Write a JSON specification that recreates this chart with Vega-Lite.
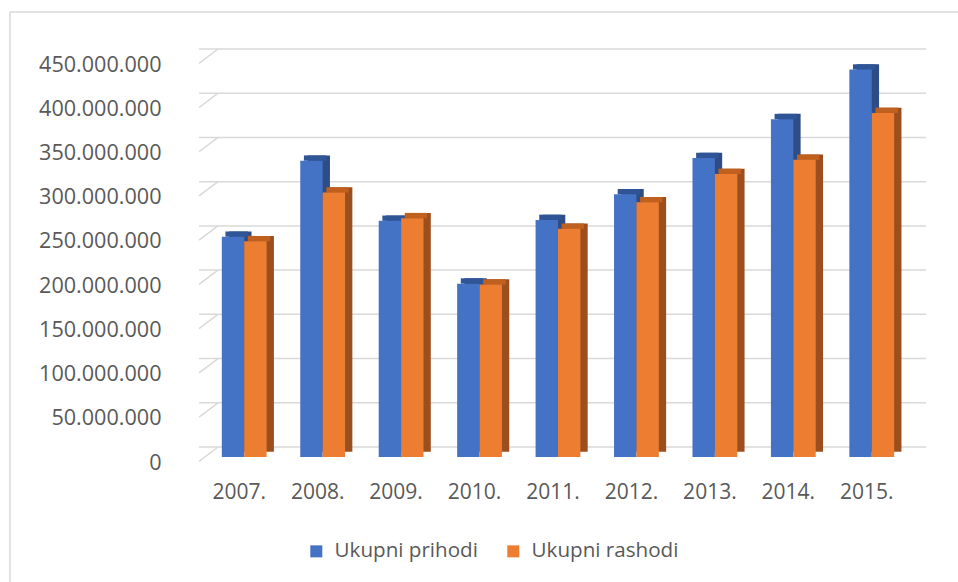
{
  "$schema": "https://vega.github.io/schema/vega-lite/v6.json",
  "autosize": "none",
  "width": 708,
  "height": 398,
  "padding": {"left": 199, "top": 59, "right": 51, "bottom": 125},
  "background": "white",
  "config": {
    "font": "Open Sans",
    "view": {"stroke": null},
    "locale": {"number": {"decimal": ",", "thousands": ".", "grouping": [3], "currency": ["", ""]}},
    "axisY": {"domain": false, "ticks": false, "grid": false, "labelPadding": 38, "labelOffset": 6, "labelFontSize": 21.6, "labelColor": "#595959", "labelFont": "Open Sans", "values": [0, 50000000, 100000000, 150000000, 200000000, 250000000, 300000000, 350000000, 400000000, 450000000], "format": ",d", "title": null},
    "axisX": {"domain": false, "ticks": false, "grid": false, "labelAngle": 0, "labelPadding": 24, "labelOffset": -5, "labelFontSize": 21, "labelColor": "#595959", "labelFont": "Open Sans", "title": null},
    "legend": {"orient": "none", "legendX": 107, "legendY": 482, "direction": "horizontal", "symbolType": "square", "symbolSize": 144, "symbolStrokeWidth": 0, "labelFontSize": 20.6, "labelFont": "Open Sans", "labelColor": "#595959", "labelOffset": 8, "columnPadding": 25, "padding": 0, "title": null}
  },
  "datasets": {
    "bars": [
      {"godina": "2007.", "serija": "Ukupni prihodi", "iznos": 249000000},
      {"godina": "2007.", "serija": "Ukupni rashodi", "iznos": 244000000},
      {"godina": "2008.", "serija": "Ukupni prihodi", "iznos": 335000000},
      {"godina": "2008.", "serija": "Ukupni rashodi", "iznos": 299000000},
      {"godina": "2009.", "serija": "Ukupni prihodi", "iznos": 267000000},
      {"godina": "2009.", "serija": "Ukupni rashodi", "iznos": 270000000},
      {"godina": "2010.", "serija": "Ukupni prihodi", "iznos": 196000000},
      {"godina": "2010.", "serija": "Ukupni rashodi", "iznos": 195000000},
      {"godina": "2011.", "serija": "Ukupni prihodi", "iznos": 268000000},
      {"godina": "2011.", "serija": "Ukupni rashodi", "iznos": 258000000},
      {"godina": "2012.", "serija": "Ukupni prihodi", "iznos": 297000000},
      {"godina": "2012.", "serija": "Ukupni rashodi", "iznos": 288000000},
      {"godina": "2013.", "serija": "Ukupni prihodi", "iznos": 338000000},
      {"godina": "2013.", "serija": "Ukupni rashodi", "iznos": 320000000},
      {"godina": "2014.", "serija": "Ukupni prihodi", "iznos": 382000000},
      {"godina": "2014.", "serija": "Ukupni rashodi", "iznos": 336000000},
      {"godina": "2015.", "serija": "Ukupni prihodi", "iznos": 438000000},
      {"godina": "2015.", "serija": "Ukupni rashodi", "iznos": 389000000}
    ],
    "grid": [
      {"v": 0}, {"v": 50000000}, {"v": 100000000}, {"v": 150000000}, {"v": 200000000},
      {"v": 250000000}, {"v": 300000000}, {"v": 350000000}, {"v": 400000000}, {"v": 450000000}
    ]
  },
  "layer": [
    {
      "data": {"values": [{}]},
      "mark": {"type": "rule", "color": "#D9D9D9", "strokeWidth": 1.5},
      "encoding": {"x": {"value": -189}, "y": {"value": -47}, "y2": {"value": 523}}
    },
    {
      "data": {"values": [{}]},
      "mark": {"type": "rule", "color": "#D9D9D9", "strokeWidth": 1.5},
      "encoding": {"x": {"value": -189}, "x2": {"value": 759}, "y": {"value": -47}}
    },
    {
      "data": {"name": "grid"},
      "mark": {"type": "rule", "color": "#D9D9D9", "strokeWidth": 1.5, "xOffset": 19, "x2Offset": 19, "yOffset": -10},
      "encoding": {
        "y": {"field": "v", "type": "quantitative", "title": null, "scale": {"domain": [0, 450000000], "nice": false, "zero": true}}
      }
    },
    {
      "data": {"name": "grid"},
      "mark": {"type": "rule", "color": "#D9D9D9", "strokeWidth": 1.5, "yOffset": 4.3, "y2Offset": -10},
      "encoding": {
        "x": {"value": 0},
        "x2": {"value": 19},
        "y": {"field": "v", "type": "quantitative", "title": null},
        "y2": {"field": "v"}
      }
    },
    {
      "data": {"name": "bars"},
      "mark": {"type": "bar", "yOffset": -5.3, "y2Offset": -5.3},
      "encoding": {
        "x": {"field": "godina", "type": "nominal", "title": null, "sort": null, "scale": {"type": "band", "range": [6, 712], "paddingInner": 0.4286, "paddingOuter": 0.2143}},
        "xOffset": {"field": "serija", "sort": null, "scale": {"range": [7.3, 52.1]}},
        "y": {"field": "iznos", "type": "quantitative", "title": null},
        "color": {"field": "serija", "type": "nominal", "legend": null, "scale": {"domain": ["Ukupni prihodi", "Ukupni rashodi"], "range": ["#2E4D87", "#9C4F1E"]}}
      }
    },
    {
      "data": {"name": "bars"},
      "mark": {"type": "tick", "thickness": 5.3, "size": 22.4, "yOffset": -2.65, "opacity": 1},
      "encoding": {
        "x": {"field": "godina", "type": "nominal", "title": null, "sort": null},
        "xOffset": {"field": "serija", "sort": null, "scale": {"range": [3.65, 48.45]}},
        "y": {"field": "iznos", "type": "quantitative", "title": null},
        "color": {"field": "serija", "type": "nominal", "legend": null, "scale": {"domain": ["Ukupni prihodi", "Ukupni rashodi"], "range": ["#2F5597", "#C0601F"]}}
      }
    },
    {
      "data": {"name": "bars"},
      "mark": {"type": "bar"},
      "encoding": {
        "x": {"field": "godina", "type": "nominal", "title": null, "sort": null},
        "xOffset": {"field": "serija", "sort": null, "scale": {"range": [0, 44.8]}},
        "y": {"field": "iznos", "type": "quantitative", "title": null},
        "color": {"field": "serija", "type": "nominal", "title": null, "scale": {"domain": ["Ukupni prihodi", "Ukupni rashodi"], "range": ["#4472C4", "#ED7D31"]}}
      }
    }
  ],
  "resolve": {"scale": {"color": "independent", "xOffset": "independent"}}
}
